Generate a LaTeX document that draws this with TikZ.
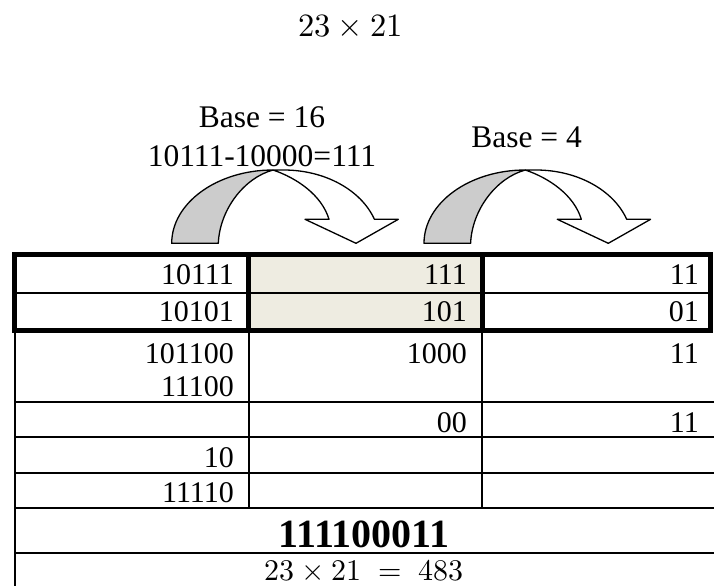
\documentclass[tikz,border=0pt]{standalone}
\usepackage{fontspec}
\usepackage{unicode-math}
\setmainfont{Liberation Serif}
\setmathfont{Latin Modern Math}
\definecolor{arrgray}{HTML}{CCCCCC}
\definecolor{cellbeige}{HTML}{EEECE1}
\tikzset{
  txt/.style={inner sep=0pt, font=\fontsize{30}{30}\selectfont},
  cellr/.style={txt, anchor=base east},
  lbl/.style={inner sep=0pt, anchor=base, font=\fontsize{31.5}{31.5}\selectfont},
  thickline/.style={line width=5pt},
  thinline/.style={line width=2pt},
  arrline/.style={line width=1.3pt, line join=round, draw=black},
  curvarr/.pic={
    \filldraw[arrline, fill=arrgray] (0,243.3) .. controls (0,203) and (45.4,170) .. (101.3,170)
      .. controls (72,178) and (48,210) .. (46.6,243.3) -- cycle;
    \filldraw[arrline, fill=white] (101.3,170) -- (112,170)
      arc[start angle=-90, end angle=-19.1, x radius=96, y radius=73.3]
      -- (226.6,219.3) -- (184.3,243.3) -- (133.3,219.3) -- (157.3,219.3)
      .. controls (150,195) and (125,178) .. (101.3,170) -- cycle;
  }
}
\begin{document}
\begin{tikzpicture}[x=1pt,y=-1pt]
\useasboundingbox (0,0) rectangle (714,586);
% title and labels
\node[inner sep=0pt, anchor=base, font=\fontsize{32.5}{32.5}\selectfont] (title) at (350.5,36.7) {$23\times 21$};
\node[lbl] (b16) at (262,127.6) {Base = 16};
\node[lbl] (eq) at (262,166) {10111-10000=111};
\node[lbl] (b4) at (526.5,147) {Base = 4};
% curved arrows
\pic at (171.7,0) {curvarr};
\pic at (424,0) {curvarr};
% shaded cells
\fill[cellbeige] (250.5,257) rectangle (479.5,327.5);
% lower grid
\draw[thinline] (15,330) -- (15,586);
\draw[thinline] (248.5,330) -- (248.5,507.5);
\draw[thinline] (482,330) -- (482,507.5);
\foreach \yy in {401.5,436.5,472.5,507.5,552.5}
  \draw[thinline] (15,\yy) -- (714,\yy);
% thick box rows 1-2
\draw[thinline] (14.5,292.5) -- (710,292.5);
\draw[thickline] (14.5,254.5) rectangle (710,330);
\draw[thickline] (248,254.5) -- (248,330);
\draw[thickline] (482,254.5) -- (482,330);
% cell texts
\node[cellr] (c11) at (234,284.3) {10111};
\node[cellr] (c12) at (467,284.3) {111};
\node[cellr] (c13) at (699,284.3) {11};
\node[cellr] (c21) at (234,321) {10101};
\node[cellr] (c22) at (467,321) {101};
\node[cellr] (c23) at (699,321) {01};
\node[cellr] (c31) at (234,363) {101100};
\node[cellr] (c31b) at (234,396.6) {11100};
\node[cellr] (c32) at (467,363) {1000};
\node[cellr] (c33) at (699,363) {11};
\node[cellr] (c42) at (467,432) {00};
\node[cellr] (c43) at (699,432) {11};
\node[cellr] (c51) at (234,467) {10};
\node[cellr] (c61) at (234,502.6) {11110};
\node[inner sep=0pt, anchor=base, font=\fontsize{40}{40}\selectfont\bfseries] (res) at (364,547.5) {111100011};
\node[inner sep=0pt, anchor=base, font=\fontsize{30}{30}\selectfont] (fin) at (364,580.5) {$23\times 21\;=\;483$};
\end{tikzpicture}
\end{document}
